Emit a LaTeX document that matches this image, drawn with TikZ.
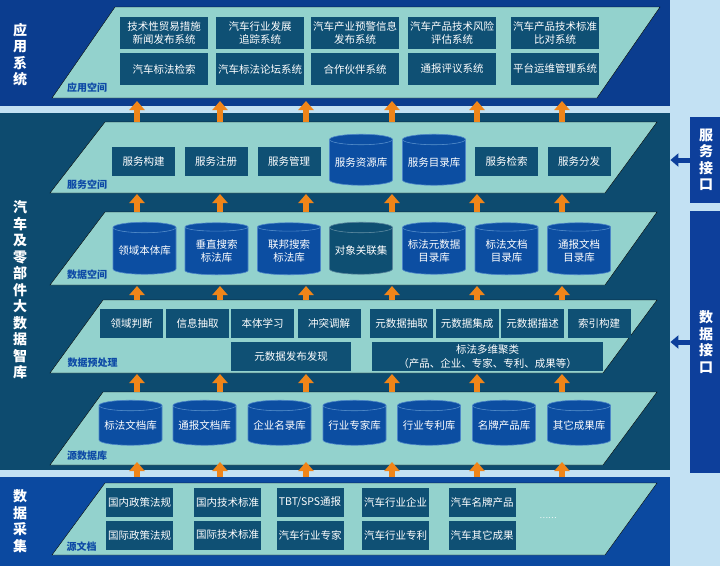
\documentclass[tikz,border=0pt]{standalone}
\usepackage{fontspec}
\setmainfont{Noto Sans CJK SC}
\usepackage{tikz}
\usetikzlibrary{shapes.geometric,arrows.meta}

\definecolor{bgblue}{HTML}{C3E1F3}
\definecolor{appblue}{HTML}{0B3D8F}
\definecolor{midteal}{HTML}{0D4B6F}
\definecolor{colblue}{HTML}{0B49A0}
\definecolor{layerfill}{HTML}{93D2CD}
\definecolor{boxteal}{HTML}{0F5074}
\definecolor{cylblue}{HTML}{0C4EA2}
\definecolor{cylteal}{HTML}{0E4F72}
\definecolor{cylrim}{HTML}{4D86C8}
\definecolor{arrorange}{HTML}{F08519}
\definecolor{tagblue}{HTML}{0D4AA6}
\definecolor{ifblue}{HTML}{0D3F9B}

\tikzset{
  band/.style={inner sep=0pt, anchor=north west},
  layer/.style={fill=layerfill},
  box/.style={fill=boxteal, text=white, font=\fontsize{10.5}{13.5}\selectfont,
    inner sep=0pt, align=center, minimum width=63pt, minimum height=29pt},
  appbox/.style={box, minimum width=88pt, minimum height=32pt},
  docbox/.style={box, minimum width=67pt},
  db/.style={cylinder, shape border rotate=90, aspect=0.2,
    cylinder uses custom fill, cylinder body fill=cylblue, cylinder end fill=cylblue,
    draw=cylrim, line width=0.6pt, text=white, font=\fontsize{10.5}{13}\selectfont,
    align=center, inner sep=0pt, minimum width=63pt, minimum height=52pt},
  tag/.style={text=tagblue, font=\bfseries\fontsize{10}{12}\selectfont},
  side/.style={text=white, font=\bfseries\fontsize{14}{16.5}\selectfont, align=center},
  iface/.style={fill=ifblue, text=white, font=\bfseries\fontsize{14}{16.5}\selectfont,
    align=center, inner sep=0pt, minimum width=32pt},
  uparr/.style={draw=arrorange, line width=6pt, -{Triangle[width=15pt,length=9pt]}},
  ifarr/.style={draw=ifblue, line width=5pt, -{Triangle[width=13pt,length=8pt]}}
}

\begin{document}
\begin{tikzpicture}[x=1pt, y=-1pt]
    \fill[bgblue] (0,0) rectangle (720,566);
    \useasboundingbox (0,0) rectangle (720,566);

    % three bands
    \node[band, fill=appblue, minimum width=670pt, minimum height=106pt] (appband) at (0,0) {};
    \node[band, fill=midteal, minimum width=670pt, minimum height=357pt] (midband) at (0,113) {};
    \node[band, fill=colblue, minimum width=670pt, minimum height=89pt] (colband) at (0,477) {};

    \node[side] (appside) at (20,54.5) {应\\用\\系\\统};
    \node[side] (midside) at (20,290) {汽\\车\\及\\零\\部\\件\\大\\数\\据\\智\\库};
    \node[side] (colside) at (20,521) {数\\据\\采\\集};

    % layers
    \draw[layer] (115,7) -- (660,7) -- (597,98) -- (52,98) -- cycle;
    \draw[layer] (105,122) -- (657,122) -- (605,193) -- (50,193) -- cycle;
    \draw[layer] (105,212) -- (657,212) -- (605,285) -- (50,285) -- cycle;
    \draw[layer] (103,300) -- (657,300) -- (603,373) -- (50,373) -- cycle;
    \draw[layer] (103,392) -- (657,392) -- (603,465) -- (50,465) -- cycle;
    \draw[layer] (105,483) -- (657,483) -- (605,555) -- (52,555) -- cycle;

    \node[tag] (apptag) at (87,88) {应用空间};
    \node[tag] (svctag) at (87,185) {服务空间};
    \node[tag] (datatag) at (87,275) {数据空间};
    \node[tag] (pretag) at (92.5,363) {数据预处理};
    \node[tag] (srctag) at (87,456) {源数据库};
    \node[tag] (doctag) at (81.5,547) {源文档};

    % application space
    \node[appbox] (a1) at (164,33) {技术性贸易措施\\新闻发布系统};
    \node[appbox] (a2) at (260,33) {汽车行业发展\\追踪系统};
    \node[appbox] (a3) at (355,33) {汽车产业预警信息\\发布系统};
    \node[appbox] (a4) at (452,33) {汽车产品技术风险\\评估系统};
    \node[appbox] (a5) at (555,33) {汽车产品技术标准\\比对系统};
    \node[appbox] (b1) at (164,69) {汽车标法检索};
    \node[appbox] (b2) at (260,69) {汽车标法论坛系统};
    \node[appbox] (b3) at (355,69) {合作伙伴系统};
    \node[appbox] (b4) at (452,69) {通报评议系统};
    \node[appbox] (b5) at (555,69) {平台运维管理系统};

    % service space
    \node[box] (s1) at (143.5,161.5) {服务构建};
    \node[box] (s2) at (216,161.5) {服务注册};
    \node[box] (s3) at (289,161.5) {服务管理};
    \node[db, minimum height=51pt] (s4) at (361,162.5) {服务资源库};
    \node[db, minimum height=51pt] (s5) at (434,162.5) {服务目录库};
    \node[box] (s6) at (506.5,161.5) {服务检索};
    \node[box] (s7) at (579,161.5) {服务分发};

    % data space
    \node[db] (d1) at (144.5,251) {领域本体库};
    \node[db] (d2) at (216.5,251) {垂直搜索\\标法库};
    \node[db] (d3) at (289,251) {联邦搜索\\标法库};
    \node[db, cylinder body fill=cylteal, cylinder end fill=cylteal, draw=cylteal!70!white] (d4) at (361,251) {对象关联集};
    \node[db] (d5) at (434,251) {标法元数据\\目录库};
    \node[db] (d6) at (506.5,251) {标法文档\\目录库};
    \node[db] (d7) at (579,251) {通报文档\\目录库};

    % preprocessing
    \node[box] (p1) at (131.5,323.5) {领域判断};
    \node[box] (p2) at (197.5,323.5) {信息抽取};
    \node[box] (p3) at (262.5,323.5) {本体学习};
    \node[box] (p4) at (329,323.5) {冲突调解};
    \node[box] (p5) at (401.5,323.5) {元数据抽取};
    \node[box] (p6) at (467,323.5) {元数据集成};
    \node[box] (p7) at (532.5,323.5) {元数据描述};
    \node[box] (p8) at (599,323.5) {索引构建};
    \node[box, minimum width=120pt] (q1) at (291,356.5) {元数据发布发现};
    \node[box, minimum width=231pt] (q2) at (487.5,356.5) {标法多维聚类\\（产品、企业、专家、专利、成果等）};

    % source databases
    \node[db, minimum height=45pt] (r1) at (130.5,425.5) {标法文档库};
    \node[db, minimum height=45pt] (r2) at (204.5,425.5) {通报文档库};
    \node[db, minimum height=45pt] (r3) at (279.5,425.5) {企业名录库};
    \node[db, minimum height=45pt] (r4) at (354.5,425.5) {行业专家库};
    \node[db, minimum height=45pt] (r5) at (429,425.5) {行业专利库};
    \node[db, minimum height=45pt] (r6) at (504,425.5) {名牌产品库};
    \node[db, minimum height=45pt] (r7) at (579,425.5) {其它成果库};

    % source documents
    \node[docbox] (c1) at (139.5,502.5) {国内政策法规};
    \node[docbox] (c2) at (227.5,502.5) {国内技术标准};
    \node[docbox] (c3) at (310,502.5) {TBT/SPS通报};
    \node[docbox] (c4) at (395.5,502.5) {汽车行业企业};
    \node[docbox] (c5) at (482,502.5) {汽车名牌产品};
    \node[docbox] (e1) at (139.5,535) {国际政策法规};
    \node[docbox] (e2) at (227.5,535) {国际技术标准};
    \node[docbox] (e3) at (310,535) {汽车行业专家};
    \node[docbox] (e4) at (395.5,535) {汽车行业专利};
    \node[docbox] (e5) at (482,535) {汽车其它成果};
    \node[text=white, font=\fontsize{8}{10}\selectfont] (more) at (548,518) {……};

    % orange arrows between the layers
    \foreach \yb/\yt [count=\k] in {122/101, 212/194, 300/286, 392/374, 477/462}
      \foreach \x [count=\i] in {137,220,306,392,477,562}{
        \coordinate (from\k\i) at (\x,\yb);
        \coordinate (to\k\i) at (\x,\yt);
        \draw[uparr] (from\k\i) -- (to\k\i);
      }

    % interfaces
    \node[iface, minimum height=86pt] (svcif) at (706,160) {服\\务\\接\\口};
    \node[iface, minimum height=262pt] (dataif) at (706,342) {数\\据\\接\\口};
    \draw[ifarr] (svcif.west) -- (svcif.west -| midband.east);
    \draw[ifarr] (dataif.west) -- (dataif.west -| midband.east);
\end{tikzpicture}
\end{document}
